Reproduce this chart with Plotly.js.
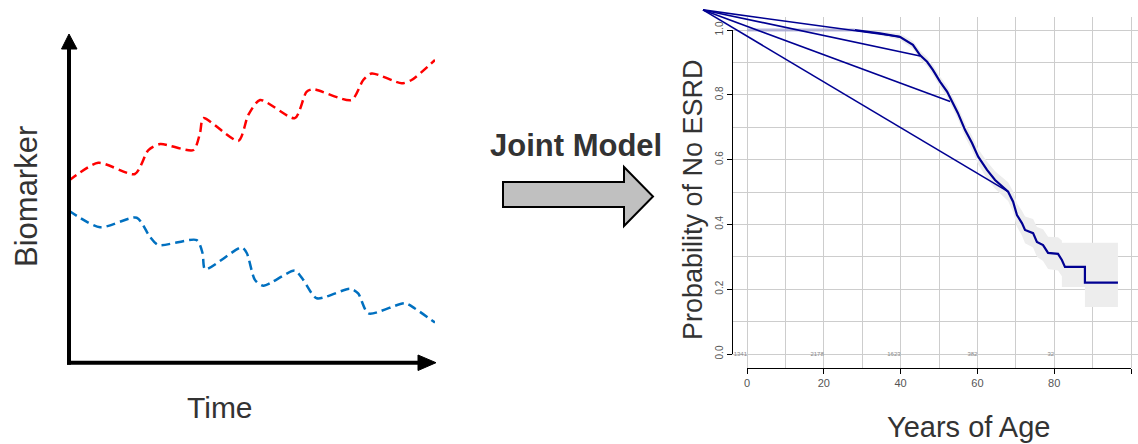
<!DOCTYPE html>
<html><head><meta charset="utf-8">
<script src="https://cdn.plot.ly/plotly-3.0.1.min.js"></script>
<style>html,body{margin:0;padding:0;background:#fff}#chart{width:1138px;height:444px}</style>
</head><body><div id="chart"></div>
<script>
// ---- Left panel: schematic biomarker trajectories ----
const redTime  = [0,0.80,1.80,2.17,2.49,3.40,3.58,3.67,4.63,4.90,5.22,6.17,6.49,6.67,7.72,8.04,8.27,9.09,9.36,10.0];
const redValue = [5.54,6.08,5.74,6.47,6.65,6.47,6.99,7.44,6.75,7.54,7.99,7.44,8.24,8.32,7.99,8.60,8.80,8.50,8.60,9.21];
const blueTime  = [0,0.85,1.85,2.21,2.44,3.49,3.65,3.72,4.72,4.86,5.08,5.31,6.17,6.40,6.77,7.68,7.90,8.18,9.18,9.45,10.0];
const blueValue = [4.62,4.12,4.41,3.83,3.58,3.73,3.33,2.84,3.51,3.33,2.52,2.34,2.80,2.52,1.96,2.25,2.11,1.50,1.81,1.65,1.22];

// ---- Right panel: survival curve ----
const kmAge  = [28.1,34.6,39.8,43.2,45.1,46.9,48.4,50.3,52.1,53.4,54.9,56.8,58.6,60.2,62.5,64.6,68.0,69.3,70.3,71.6,72.4,74.5,75.5,77.1,78.4,81.0,82.0,82.8,88.0,88.0,96.6];
const kmSurv = [1.0,0.990,0.979,0.954,0.922,0.902,0.877,0.840,0.810,0.779,0.744,0.691,0.651,0.609,0.568,0.537,0.501,0.470,0.429,0.404,0.383,0.373,0.346,0.336,0.312,0.309,0.290,0.269,0.269,0.220,0.220];
const ciAge   = [28.1,34.6,39.8,43.2,45.1,46.9,48.4,50.3,52.1,53.4,54.9,56.8,58.6,60.2,62.5,64.6,68.0,69.3,70.3,71.6,72.4,74.5,75.5,77.1,78.4,81.0,82.0,82.0,88.0,88.0,96.6];
const ciUpper = [1.0,0.996,0.989,0.966,0.936,0.916,0.892,0.856,0.827,0.797,0.763,0.712,0.673,0.633,0.594,0.564,0.530,0.502,0.465,0.442,0.424,0.417,0.392,0.385,0.362,0.360,0.350,0.343,0.343,0.343,0.343];
const ciLower = [0.998,0.984,0.969,0.942,0.908,0.888,0.862,0.824,0.793,0.761,0.725,0.670,0.629,0.585,0.542,0.510,0.472,0.438,0.393,0.366,0.342,0.329,0.300,0.287,0.262,0.258,0.240,0.207,0.207,0.145,0.145];
const plateauAge  = [0, 28.1];
const plateauSurv = [1.0, 1.0];
const apexAge  = -11.46;
const apexSurv = 1.062;
const landmarkAge  = [39.8, 45.1, 52.9, 68.0];
const landmarkSurv = [0.979, 0.920, 0.779, 0.501];
const riskAge   = [0, 20, 40, 60, 80];
const riskCount = ['1341','2178','1623','382','32'];
const xTickVals = [0,20,40,60,80,100];
const yTickVals = [0,0.2,0.4,0.6,0.8,1.0];
const yTickText = ['0.0','0.2','0.4','0.6','0.8','1.0'];

const W = 1138, H = 444;
const fx = v => v / W;
const fy = v => 1 - v / H;
const FONT = 'Liberation Sans, Arial, Helvetica, sans-serif';
const NAVY = '#000092';

const traces = [];
// left
traces.push({x: redTime, y: redValue, xaxis:'x', yaxis:'y', mode:'lines',
  line:{color:'#ff0000', width:2.5, dash:'9px,5px', shape:'spline', smoothing:0.7}, hoverinfo:'skip'});
traces.push({x: blueTime, y: blueValue, xaxis:'x', yaxis:'y', mode:'lines',
  line:{color:'#0070c0', width:2.5, dash:'9px,5px', shape:'spline', smoothing:0.7}, hoverinfo:'skip'});
// grid subplot
traces.push({x: [], y: [], xaxis:'x2', yaxis:'y2', mode:'lines', hoverinfo:'skip'});
// data subplot
traces.push({x: ciAge, y: ciUpper, xaxis:'x3', yaxis:'y3', mode:'lines',
  line:{color:'rgba(0,0,0,0)', width:0}, hoverinfo:'skip'});
traces.push({x: ciAge, y: ciLower, xaxis:'x3', yaxis:'y3', mode:'lines', fill:'tonexty',
  fillcolor:'#ededed', line:{color:'rgba(0,0,0,0)', width:0}, hoverinfo:'skip'});
traces.push({x: plateauAge, y: plateauSurv, xaxis:'x3', yaxis:'y3', mode:'lines',
  line:{color:'rgba(160,160,210,0.75)', width:3}, hoverinfo:'skip'});
landmarkAge.forEach((a, i) => {
  traces.push({x: [apexAge, a], y: [apexSurv, landmarkSurv[i]], xaxis:'x3', yaxis:'y3', mode:'lines',
    line:{color:NAVY, width:1.6}, hoverinfo:'skip'});
});
traces.push({x: kmAge, y: kmSurv, xaxis:'x3', yaxis:'y3', mode:'lines',
  line:{color:NAVY, width:2.2}, hoverinfo:'skip'});
traces.push({x: riskAge, y: riskAge.map(() => 0), text: riskCount, xaxis:'x3', yaxis:'y3', mode:'text',
  textposition:'middle left', textfont:{size:6, color:'#8a8a8a', family:FONT}, hoverinfo:'skip', cliponaxis:false});
// axis subplot
traces.push({x: [], y: [], xaxis:'x4', yaxis:'y4', mode:'lines', hoverinfo:'skip'});

const pxPerYear = (1131 - 747) / 100;
const pxPerProb = 354 - 30;
const xr = (a, b) => [(a - 747) / pxPerYear, (b - 747) / pxPerYear];
const yr = (a, b) => [(354 - a) / pxPerProb, (354 - b) / pxPerProb];

const hidden = {visible:false, fixedrange:true};
const layout = {
  width: W, height: H,
  margin:{l:0, r:0, t:0, b:0},
  paper_bgcolor:'#ffffff', plot_bgcolor:'rgba(0,0,0,0)',
  showlegend:false,
  font:{family:FONT, color:'#333'},
  xaxis: Object.assign({domain:[fx(69), fx(435)], range:[0,10]}, hidden),
  yaxis: Object.assign({domain:[fy(362.7), fy(34)], range:[0,10]}, hidden),
  xaxis2:{domain:[fx(732), 1], range:xr(732, 1138), anchor:'y2', showgrid:true, gridcolor:'#cdcdcd', gridwidth:1,
    dtick:10, tick0:0, showticklabels:false, ticks:'', zeroline:false, showline:false},
  yaxis2:{domain:[fy(368), fy(17)], range:yr(368, 17), anchor:'x2', showgrid:true, gridcolor:'#cdcdcd', gridwidth:1,
    dtick:0.1, tick0:0, showticklabels:false, ticks:'', zeroline:false, showline:false},
  xaxis3: Object.assign({domain:[fx(700), 1], range:xr(700, 1138), anchor:'y3'}, hidden),
  yaxis3: Object.assign({domain:[fy(372), fy(5)], range:yr(372, 5), anchor:'x3'}, hidden),
  xaxis4:{domain:[fx(747), fx(1131)], range:[0,100], anchor:'free', position:fy(368),
    showline:true, linecolor:'#000', linewidth:1, ticks:'outside', ticklen:5, tickcolor:'#000', tickwidth:1,
    tickvals:xTickVals, tickfont:{size:11, color:'#555', family:FONT}, showgrid:false, zeroline:false},
  yaxis4:{domain:[fy(354), fy(30)], range:[0,1], anchor:'free', position:fx(732),
    showline:true, linecolor:'#000', linewidth:1, ticks:'outside', ticklen:5, tickcolor:'#000', tickwidth:1,
    tickvals:yTickVals, ticktext:yTickText, tickangle:-90, tickfont:{size:10, color:'#555', family:FONT},
    showgrid:false, zeroline:false},
  shapes:[
    {type:'line', xref:'paper', yref:'paper', x0:fx(69), y0:fy(364.7), x1:fx(69), y1:fy(48), line:{color:'#000', width:4}},
    {type:'path', xref:'paper', yref:'paper', fillcolor:'#000', line:{color:'#000', width:1},
      path:`M ${fx(61.5)} ${fy(49)} L ${fx(69)} ${fy(34)} L ${fx(77)} ${fy(49)} Z`},
    {type:'line', xref:'paper', yref:'paper', x0:fx(67), y0:fy(362.7), x1:fx(420), y1:fy(362.7), line:{color:'#000', width:4}},
    {type:'path', xref:'paper', yref:'paper', fillcolor:'#000', line:{color:'#000', width:1},
      path:`M ${fx(418)} ${fy(355)} L ${fx(436)} ${fy(362.7)} L ${fx(418)} ${fy(370.5)} Z`},
    {type:'path', xref:'paper', yref:'paper', fillcolor:'#c0c0c0', line:{color:'#000', width:2},
      path:`M ${fx(503)} ${fy(182)} L ${fx(624)} ${fy(182)} L ${fx(624)} ${fy(167)} L ${fx(653)} ${fy(196.5)} L ${fx(624)} ${fy(226)} L ${fx(624)} ${fy(207)} L ${fx(503)} ${fy(207)} Z`}
  ],
  annotations:[
    {text:'Biomarker', xref:'paper', yref:'paper', x:fx(26), y:fy(197), textangle:-90, showarrow:false,
      xanchor:'center', yanchor:'middle', font:{size:31, color:'#333', family:FONT}},
    {text:'Time', xref:'paper', yref:'paper', x:fx(220), y:fy(407), showarrow:false,
      xanchor:'center', yanchor:'middle', font:{size:30, color:'#333', family:FONT}},
    {text:'<b>Joint Model</b>', xref:'paper', yref:'paper', x:fx(576), y:fy(145), showarrow:false,
      xanchor:'center', yanchor:'middle', font:{size:31, color:'#333', family:FONT}},
    {text:'Probability of No ESRD', xref:'paper', yref:'paper', x:fx(693), y:fy(200), textangle:-90, showarrow:false,
      xanchor:'center', yanchor:'middle', font:{size:27, color:'#333', family:FONT}},
    {text:'Years of Age', xref:'paper', yref:'paper', x:fx(968), y:fy(427), showarrow:false,
      xanchor:'center', yanchor:'middle', font:{size:29, color:'#333', family:FONT}}
  ]
};
Plotly.newPlot('chart', traces, layout, {staticPlot:true, displayModeBar:false});
</script></body></html>
